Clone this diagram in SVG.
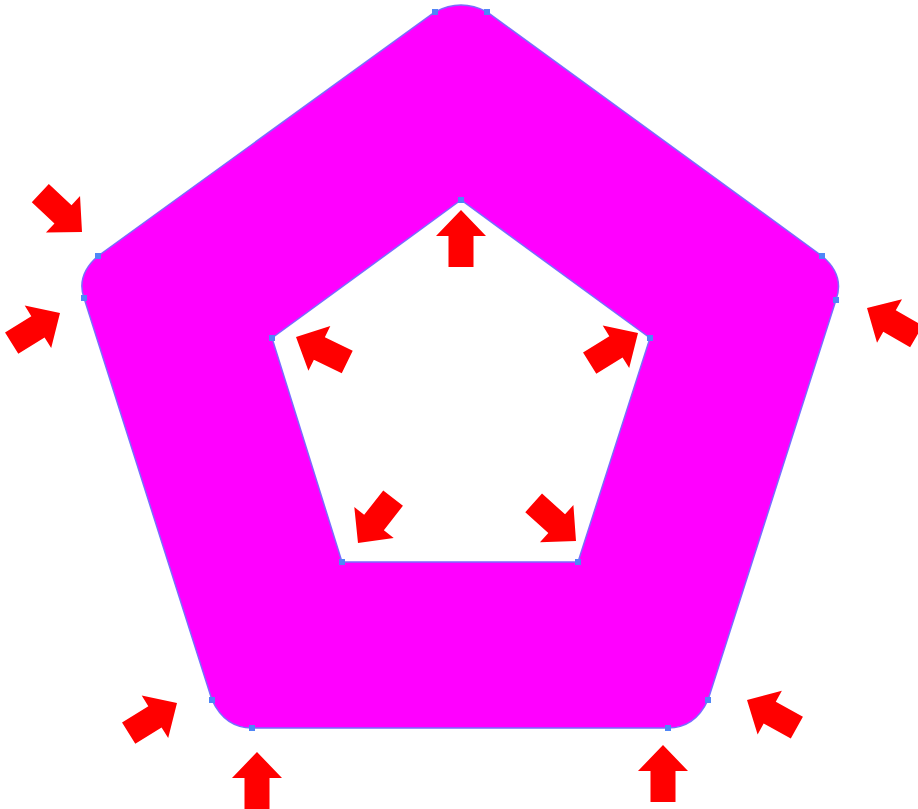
<svg xmlns="http://www.w3.org/2000/svg" xmlns:xlink="http://www.w3.org/1999/xlink" width="918" height="809" viewBox="0 0 918 809">
<style>
.shape{fill:#ff00ff;fill-rule:evenodd;stroke:#7a6cff;stroke-width:1.5}
.anc{fill:#4f86f7}
.arr{fill:#ff0000}
</style>
<defs>
<path id="arrow" class="arr" d="M0,0 L25,26 L12.5,26 L12.5,57 L-12.5,57 L-12.5,26 L-25,26 Z"/>
<rect id="a" class="anc" x="-3" y="-3" width="6" height="6"/>
</defs>
<rect width="918" height="809" fill="#ffffff"/>
<g id="pentagon-ring">
<path class="shape" d="M435,12 Q461,-2 487,12 L822,256 Q845,275 836,300 L708,700 Q695,728 668,728 L252,728 Q225,728 212,700 L84,298 Q76,275 98,256 Z M461,200 L272,338 L342,562 L578,562 L650,338 Z"/>
</g>
<g id="anchors">
<use href="#a" x="435" y="12"/><use href="#a" x="487" y="12"/>
<use href="#a" x="98" y="256"/><use href="#a" x="84" y="298"/>
<use href="#a" x="822" y="256"/><use href="#a" x="836" y="300"/>
<use href="#a" x="212" y="700"/><use href="#a" x="252" y="728"/>
<use href="#a" x="708" y="700"/><use href="#a" x="668" y="728"/>
<use href="#a" x="461" y="200"/><use href="#a" x="272" y="338"/>
<use href="#a" x="650" y="338"/><use href="#a" x="342" y="562"/>
<use href="#a" x="578" y="562"/>
</g>
<g id="arrows">
<use href="#arrow" transform="translate(461,210)"/>
<use href="#arrow" transform="translate(296,337) rotate(-64)"/>
<use href="#arrow" transform="translate(638,333) rotate(58)"/>
<use href="#arrow" transform="translate(358,543) rotate(-142)"/>
<use href="#arrow" transform="translate(576,541) rotate(132)"/>
<use href="#arrow" transform="translate(82,232) rotate(133)"/>
<use href="#arrow" transform="translate(60,313) rotate(58)"/>
<use href="#arrow" transform="translate(867,308) rotate(-60)"/>
<use href="#arrow" transform="translate(177,703) rotate(58)"/>
<use href="#arrow" transform="translate(257,752)"/>
<use href="#arrow" transform="translate(663,745)"/>
<use href="#arrow" transform="translate(747,700) rotate(-61)"/>
</g>
</svg>
